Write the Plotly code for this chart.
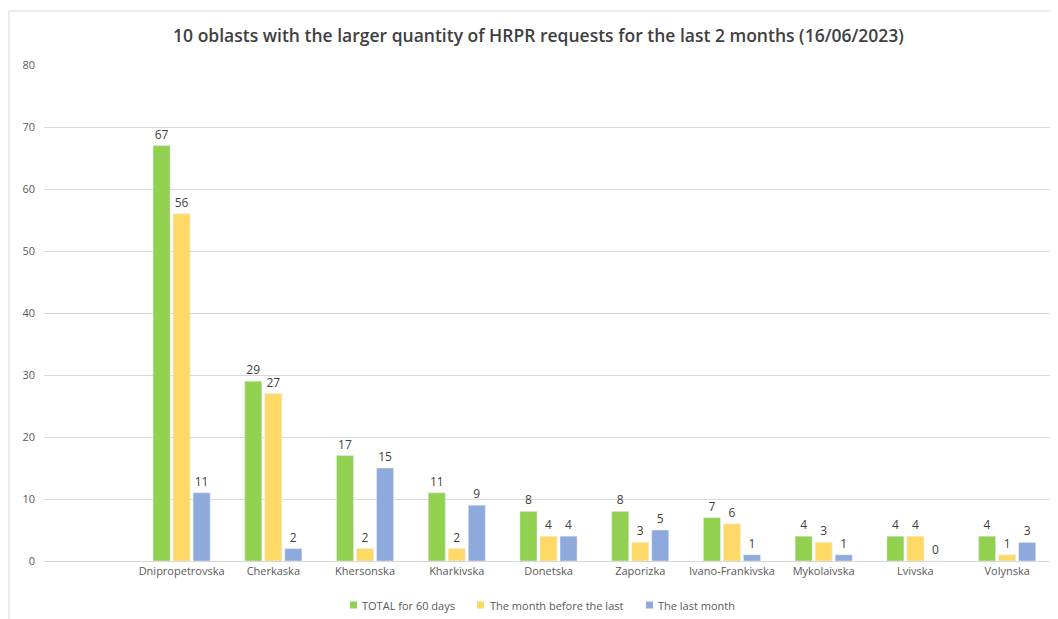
import plotly.graph_objects as go

oblasts = ["Dnipropetrovska", "Cherkaska", "Khersonska", "Kharkivska", "Donetska",
           "Zaporizka", "Ivano-Frankivska", "Mykolaivska", "Lvivska", "Volynska"]
total_60_days = [67, 29, 17, 11, 8, 8, 7, 4, 4, 4]
month_before_last = [56, 27, 2, 2, 4, 3, 6, 3, 4, 1]
last_month = [11, 2, 15, 9, 4, 5, 1, 1, 0, 3]

series = [
    ("TOTAL for 60 days", total_60_days, "#92D050"),
    ("The month before the last", month_before_last, "#FFD966"),
    ("The last month", last_month, "#8EA9DB"),
]

# page body has an 8px offset; work in figure coordinates = reference - 8
OFF = 8
W, H = 1058 - OFF, 619 - OFF
L, R, T, B = 44 - OFF, 1050 - (1053 - OFF), 65 - OFF, H - (561 - OFF)
pw, ph = W - L - R, H - T - B


def px_x(p):
    return (p - OFF - L) / pw


def px_y(p):
    return (H - B - (p - OFF)) / ph


fig = go.Figure()
for name, vals, col in series:
    fig.add_trace(go.Bar(
        x=oblasts, y=vals, name=name,
        marker=dict(color=col),
        text=vals, textposition="outside", cliponaxis=False,
        textfont=dict(size=12, color="#404040", family="Open Sans"),
        showlegend=False,
    ))

# custom legend (compact, like the original)
legend_items = [(350, 360), (477, 488), (646, 656)]
shapes = [dict(
    type="rect", xref="paper", yref="paper",
    x0=px_x(9), x1=px_x(1070), y0=px_y(630), y1=px_y(11),
    line=dict(color="#D9D9D9", width=1), fillcolor="rgba(0,0,0,0)", layer="below",
)]
annotations = []
for (sx, tx), (name, _, col) in zip(legend_items, series):
    shapes.append(dict(
        type="rect", xref="paper", yref="paper",
        x0=px_x(sx), x1=px_x(sx + 7), y0=px_y(608.5), y1=px_y(601.5),
        line=dict(width=0), fillcolor=col,
    ))
    annotations.append(dict(
        text=name, xref="paper", yref="paper", x=px_x(tx), y=px_y(605),
        xanchor="left", yanchor="middle", showarrow=False,
        font=dict(size=11, color="#595959", family="Open Sans"),
    ))

fig.update_layout(
    width=W, height=H,
    margin=dict(l=L, r=R, t=T, b=B),
    paper_bgcolor="white", plot_bgcolor="white",
    barmode="group", bargap=0.345, bargroupgap=0.15,
    title=dict(
        text="10 oblasts with the larger quantity of HRPR requests for the last 2 months (16/06/2023)",
        x=(538.5 - OFF) / W, xanchor="center", xref="container",
        y=1 - (36 - OFF) / H, yanchor="middle",
        font=dict(size=17.5, color="#404040", family="Open Sans", weight=600),
    ),
    font=dict(family="Open Sans", color="#595959", size=11),
    xaxis=dict(
        type="category", range=[-1.5, 9.5], automargin=False,
        showgrid=False, showline=True, linecolor="#D9D9D9", linewidth=1,
        ticks="", tickfont=dict(size=11, color="#595959"),
    ),
    yaxis=dict(
        range=[0, 80], dtick=10, showgrid=True, gridcolor="#D9D9D9", gridwidth=1,
        zeroline=False, ticks="", tickfont=dict(size=11, color="#595959"),
        ticklabelstandoff=8, automargin=False,
    ),
    showlegend=False,
    shapes=shapes,
    annotations=annotations,
)

fig.write_html("out.html")
